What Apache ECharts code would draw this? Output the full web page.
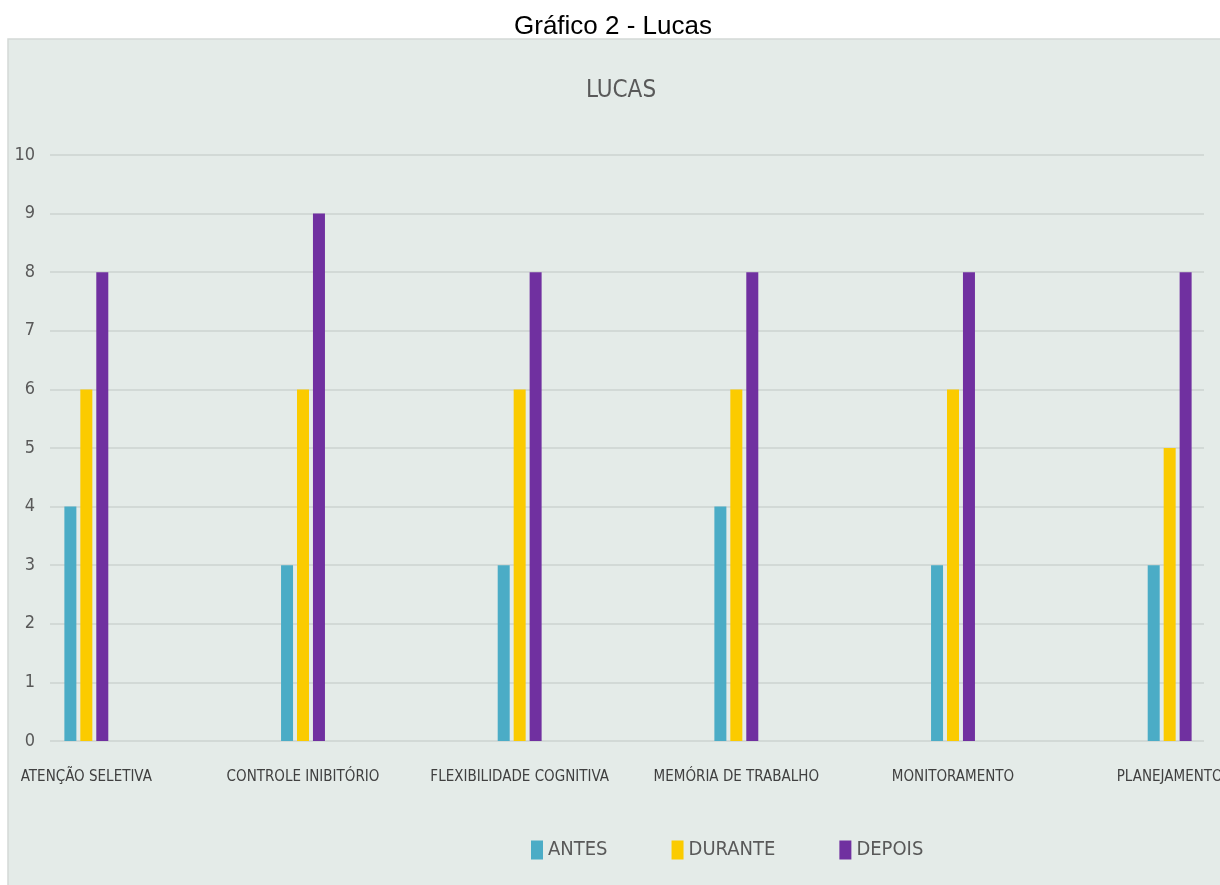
<!DOCTYPE html>
<html>
<head>
<meta charset="utf-8">
<script src="https://cdn.jsdelivr.net/npm/echarts@6/dist/echarts.min.js"></script>
<style>
  html, body { margin: 0; padding: 0; background: #fff; }
  #chart { width: 1220px; height: 885px; }
</style>
</head>
<body>
<div id="chart"></div>
<script>
// Gráfico 2 - Lucas: três momentos (antes / durante / depois) por função executiva
const CATEGORIES = [
  "ATENÇÃO SELETIVA", "CONTROLE INIBITÓRIO", "FLEXIBILIDADE COGNITIVA",
  "MEMÓRIA DE TRABALHO", "MONITORAMENTO", "PLANEJAMENTO",
];
const ANTES   = [4, 3, 3, 4, 3, 3];
const DURANTE = [6, 6, 6, 6, 6, 5];
const DEPOIS  = [8, 9, 8, 8, 8, 8];

const SERIES = [
  { name: "ANTES",   data: ANTES,   color: "#4bacc6" },
  { name: "DURANTE", data: DURANTE, color: "#fbcb00" },
  { name: "DEPOIS",  data: DEPOIS,  color: "#7030a0" },
];

const NARROW = '"Liberation Sans Narrow", "DejaVu Sans Condensed", "Roboto Condensed", sans-serif';
const TXT = "#595959";
const GRID_CLR = "#d2d9d6";

const chart = echarts.init(document.getElementById("chart"), null, { renderer: "canvas" });

// grid 0 carries the bars (wider than the visible panel, as in the cropped original);
// grid 1 only draws the y labels and the horizontal gridlines.
const TOP = 155, BOTTOM = 144;

chart.setOption({
  backgroundColor: "#ffffff",
  animation: false,
  graphic: [
    {
      type: "rect", z: -10, silent: true,
      shape: { x: 8, y: 39, width: 1220, height: 860 },
      style: { fill: "#e4ebe8", stroke: "#d3d9d6", lineWidth: 1.5 },
    },
  ],
  title: [
    {
      text: "Gráfico 2 - Lucas", left: 608, textAlign: "center", top: 9,
      textStyle: { fontFamily: "Liberation Sans, Arial, sans-serif", fontSize: 26, fontWeight: "normal", color: "#000" },
    },
    {
      text: "LUCAS", left: 616, textAlign: "center", top: 74,
      textStyle: { fontFamily: NARROW, fontSize: 24, fontWeight: "normal", color: TXT },
    },
  ],
  legend: {
    data: SERIES.map(s => s.name),
    top: 840, left: 531, padding: 0,
    icon: "rect", itemWidth: 12, itemHeight: 19, itemGap: 64,
    textStyle: { fontFamily: NARROW, fontSize: 20, color: TXT },
  },
  grid: [
    { left: -22, right: -58, top: TOP, bottom: BOTTOM, outerBoundsMode: "none" },
    { left: 50, right: 16, top: TOP, bottom: BOTTOM, outerBoundsMode: "none" },
  ],
  xAxis: [
    {
      type: "category", data: CATEGORIES, gridIndex: 0,
      axisLine: { show: false }, axisTick: { show: false },
      axisLabel: { interval: 0, margin: 29, fontFamily: NARROW, fontSize: 15, color: "#404040" },
    },
    { type: "value", gridIndex: 1, min: 0, max: 1, show: false },
  ],
  yAxis: [
    { type: "value", gridIndex: 0, min: 0, max: 10, interval: 1, show: false },
    {
      type: "value", gridIndex: 1, min: 0, max: 10, interval: 1,
      axisLine: { show: false }, axisTick: { show: false },
      axisLabel: { margin: 15, fontFamily: NARROW, fontSize: 18, color: TXT },
      splitLine: { lineStyle: { color: GRID_CLR, width: 2 } },
    },
  ],
  series: SERIES.map(s => ({
    name: s.name, type: "bar", xAxisIndex: 0, yAxisIndex: 0,
    data: s.data, barWidth: 12, barGap: "33%",
    itemStyle: { color: s.color },
  })),
});
</script>
</body>
</html>
